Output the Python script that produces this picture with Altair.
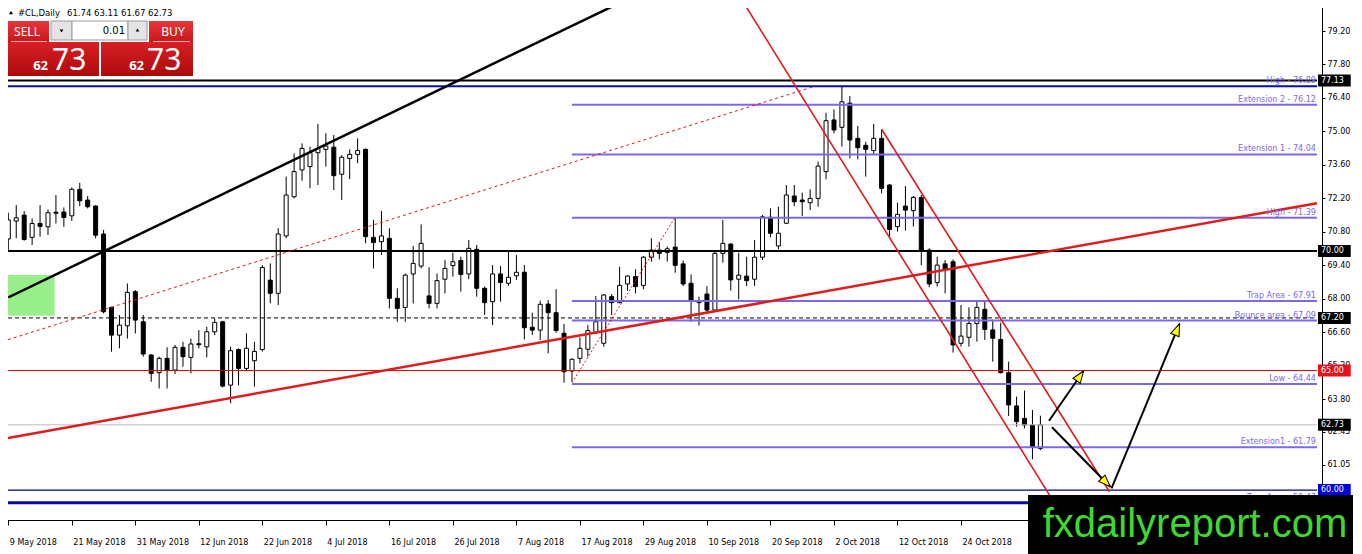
import json
import math
import altair as alt
import pandas as pd

# ---------------- candle data (bar index 0 = 9 May 2018) ----------------
opens = [70.50, 71.25, 71.50, 70.57, 71.15, 71.01, 71.62, 71.63, 71.47, 72.58,
         72.13, 71.88, 70.71, 67.64, 66.48, 66.87, 68.30, 67.04, 65.65, 64.91,
         65.51, 65.02, 65.97, 65.55, 66.12, 65.99, 66.62, 67.04, 64.39, 65.88,
         65.09, 65.41, 65.88, 68.78, 68.23, 70.63, 72.27, 73.39, 73.53, 74.11,
         74.25, 74.34, 73.21, 73.87, 74.04, 74.25, 70.57, 70.39, 70.53, 68.02,
         67.64, 69.04, 69.37, 68.12, 67.81, 68.82, 69.39, 69.60, 69.04, 70.07,
         68.44, 67.88, 69.04, 68.65, 68.96, 69.11, 66.81, 66.69, 67.78, 67.42,
         66.56, 64.98, 65.51, 65.89, 66.58, 66.14, 68.09, 67.84, 68.62, 68.93,
         68.56, 69.74, 70.04, 69.94, 70.16, 69.46, 68.65, 67.92, 68.20, 67.53,
         69.90, 70.29, 68.82, 68.95, 68.82, 69.74, 71.41, 70.21, 71.16, 72.30,
         72.13, 72.02, 72.20, 73.32, 75.48, 75.17, 76.18, 74.71, 74.42, 74.20,
         74.71, 72.76, 71.02, 71.88, 71.69, 72.24, 70.04, 68.68, 69.46, 69.55,
         66.14, 66.39, 66.97, 67.56, 66.70, 66.30, 64.91, 63.52, 63.00, 62.72,
         61.74]
highs = [71.60, 71.92, 71.67, 71.36, 71.92, 71.74, 72.34, 71.82, 72.66, 72.85,
         72.30, 71.92, 70.88, 67.67, 67.32, 68.64, 68.37, 67.32, 65.69, 65.58,
         65.97, 66.07, 66.20, 66.34, 66.69, 66.83, 67.18, 67.08, 66.00, 65.93,
         66.55, 66.20, 69.41, 69.48, 70.95, 73.11, 74.08, 74.50, 74.36, 75.31,
         74.92, 74.85, 74.01, 74.25, 74.71, 74.29, 71.30, 71.67, 70.95, 68.44,
         69.06, 70.21, 71.11, 69.32, 69.06, 69.62, 69.93, 69.76, 70.46, 70.25,
         68.51, 69.41, 69.37, 69.97, 69.83, 69.41, 67.42, 67.92, 67.95, 68.40,
         66.95, 65.51, 66.39, 66.90, 68.12, 68.20, 68.20, 69.34, 68.99, 69.23,
         69.79, 70.53, 70.36, 70.18, 71.41, 69.60, 69.02, 68.09, 68.53, 70.04,
         71.30, 70.32, 69.93, 69.76, 70.46, 71.50, 71.78, 71.85, 72.76, 72.76,
         72.44, 72.58, 73.74, 75.78, 75.92, 76.90, 76.48, 75.23, 74.57, 75.31,
         75.09, 72.80, 72.02, 72.72, 72.30, 72.34, 70.11, 69.76, 69.62, 69.65,
         67.74, 67.64, 67.88, 67.92, 67.12, 67.00, 65.37, 63.91, 64.16, 63.35,
         63.11]
lows = [70.00, 70.53, 70.43, 70.25, 70.60, 70.67, 71.15, 71.01, 71.26, 71.88,
        71.78, 70.53, 67.39, 65.79, 65.93, 66.34, 66.55, 65.58, 64.53, 64.25,
        64.25, 64.85, 65.16, 64.88, 65.93, 65.55, 66.48, 64.29, 63.63, 64.39,
        65.02, 64.32, 65.79, 67.81, 67.74, 70.53, 72.20, 72.94, 72.62, 72.76,
        73.53, 72.55, 72.13, 73.01, 73.67, 70.32, 69.27, 69.83, 67.60, 67.04,
        67.04, 67.81, 69.27, 67.60, 67.60, 68.23, 68.93, 68.30, 68.82, 68.09,
        67.32, 66.90, 67.88, 68.54, 68.79, 66.30, 66.49, 66.28, 65.72, 66.58,
        64.49, 64.53, 65.30, 65.58, 66.53, 66.00, 67.32, 67.81, 68.34, 68.23,
        68.40, 69.55, 69.65, 69.55, 69.09, 68.53, 67.04, 66.88, 67.39, 67.50,
        69.51, 68.34, 67.98, 68.53, 68.53, 69.62, 70.57, 70.07, 71.13, 71.88,
        71.46, 71.71, 71.85, 73.00, 74.92, 74.36, 73.88, 73.83, 73.11, 74.06,
        72.41, 70.60, 70.81, 70.85, 71.02, 69.41, 68.48, 68.51, 68.23, 65.75,
        66.00, 66.00, 66.21, 66.28, 65.37, 64.88, 63.10, 62.65, 62.58, 61.29,
        61.67]
closes = [71.30, 71.39, 70.48, 71.15, 71.03, 71.60, 71.58, 71.40, 72.58, 72.10,
          71.85, 70.66, 67.46, 66.48, 66.90, 68.27, 67.11, 65.69, 64.88, 65.51,
          65.02, 65.97, 65.58, 66.11, 66.08, 66.62, 67.01, 64.35, 65.83, 65.09,
          65.93, 65.80, 69.31, 68.23, 70.71, 72.34, 73.32, 74.29, 74.11, 74.29,
          74.39, 73.15, 73.92, 74.04, 74.20, 70.60, 70.35, 70.63, 68.02, 67.60,
          68.99, 69.48, 70.32, 67.81, 68.76, 69.27, 69.55, 69.02, 70.11, 68.44,
          67.84, 69.04, 68.68, 68.90, 69.11, 66.79, 66.69, 67.77, 67.42, 66.67,
          64.95, 65.47, 65.93, 66.67, 67.04, 68.16, 67.84, 68.56, 68.95, 68.51,
          69.74, 70.04, 69.90, 70.09, 69.40, 68.62, 67.92, 67.84, 67.53, 69.90,
          70.32, 68.79, 68.99, 68.76, 69.74, 71.43, 70.74, 70.74, 72.34, 72.06,
          72.06, 72.20, 73.55, 75.45, 75.06, 76.24, 74.64, 74.32, 74.25, 74.71,
          72.62, 70.90, 71.53, 71.71, 72.24, 70.04, 68.62, 69.41, 69.23, 66.07,
          66.44, 66.97, 67.64, 66.72, 66.35, 64.91, 63.56, 62.86, 62.72, 61.79,
          62.73]

date_labels = ["9 May 2018", "21 May 2018", "31 May 2018", "12 Jun 2018", "22 Jun 2018",
               "4 Jul 2018", "16 Jul 2018", "26 Jul 2018", "7 Aug 2018", "17 Aug 2018",
               "29 Aug 2018", "10 Sep 2018", "20 Sep 2018", "2 Oct 2018", "12 Oct 2018",
               "24 Oct 2018"]
bars_per_label = 8

price_ticks = [79.20, 77.80, 76.40, 75.00, 73.60, 72.20, 70.80, 69.40, 68.00,
               66.60, 65.20, 63.80, 62.45, 61.05, 59.65]

# horizontal levels
black_levels = [77.13, 70.00]
navy_levels = [76.89]
navy_thin_levels = [60.00]
navy_thick_levels = [59.47]
dashed_levels = [67.20]
red_levels = [65.00]
grey_levels = [62.73]
fibo_start_bar = 71
fibo_levels = [76.12, 74.04, 71.39, 67.91, 67.09, 64.44, 61.79]

level_names = ["High - 76.89", "Extension 2 - 76.12", "Extension 1 - 74.04", "High - 71.39",
               "Trap Area - 67.91", "Bounce area - 67.09", "Low - 64.44",
               "Extension1 - 61.79", "Trap Area - 59.47"]
level_prices = [76.89, 76.12, 74.04, 71.39, 67.91, 67.09, 64.44, 61.79, 59.47]

badge_prices = [77.13, 70.00, 67.20, 65.00, 62.73, 60.00]
badge_texts = ["77.13", "70.00", "67.20", "65.00", "62.73", "60.00"]
badge_colors = ["#000000", "#000000", "#000000", "#e8101a", "#000000", "#0000e0"]

# trend lines: (bar, price) -> (bar, price)
X0, X1 = -0.0375, 164.84
Y0, Y1 = 58.749, 80.455
black_trend = [(0.0, 68.06, 76.1, 80.23)]
red_trend = [(X0, 62.18, X1, 72.00)]
red_dashed = [(X0, 66.29, 101.7, 76.90)]
red_dotted = [(71.0, 64.49, 84.0, 71.42)]
channel = [(92.49, 80.455, 133.09, 58.75), (110.0, 75.09, 138.7, 59.93)]
arrows = [(131.09, 62.90, 135.43, 64.98),
          (131.46, 62.63, 138.80, 60.14),
          (138.96, 60.07, 147.52, 66.95)]
green_zone = [(X0, 69.00, 5.84, 67.29)]

header_symbol = "#CL,Daily"
header_ohlc = "61.74 63.11 61.67 62.73"
watermark = "fxdailyreport.com"

# ---------------- layout ----------------
W, H = 1319, 519
px_per_bar = W / (X1 - X0)
px_per_price = H / (Y1 - Y0)

xs = alt.Scale(domain=[X0, X1], nice=False, zero=False)
ys = alt.Scale(domain=[Y0, Y1], nice=False, zero=False)

x_axis = alt.Axis(values=[k * bars_per_label for k in range(len(date_labels))],
                  labelExpr=json.dumps(date_labels) + f"[round(datum.value/{bars_per_label})]",
                  title=None, orient="bottom", tickSize=5, labelAlign="left",
                  labelBaseline="top", labelPadding=13, labelOffset=1, grid=False,
                  labelFlush=False, labelOverlap=False)
y_axis = alt.Axis(values=price_ticks, format=".2f", orient="right", title=None,
                  tickSize=3, labelPadding=2, grid=False, labelOverlap=False,
                  labelFlush=False)


def X(f):
    return alt.X(f"{f}:Q", scale=xs, axis=x_axis)


def Y(f):
    return alt.Y(f"{f}:Q", scale=ys, axis=y_axis)


candles = pd.DataFrame({"i": list(range(len(opens))), "o": opens, "h": highs,
                        "l": lows, "c": closes})

layers = []

# green zone
gz = pd.DataFrame(green_zone, columns=["x", "y", "x2", "y2"])
layers.append(alt.Chart(gz).mark_rect(fill="#99ee8c", clip=True).encode(
    x=X("x"), x2="x2", y=Y("y"), y2="y2"))

# candles
layers.append(alt.Chart(candles).mark_rule(color="black", strokeWidth=1, clip=True).encode(
    x=X("i"), y=Y("l"), y2="h"))
layers.append(alt.Chart(candles).transform_calculate(
    top="max(datum.o, datum.c)", bot="min(datum.o, datum.c)"
).mark_bar(size=4, stroke="black", strokeWidth=1, clip=True).encode(
    x=X("i"), y=Y("bot"), y2="top",
    fill=alt.condition("datum.c >= datum.o", alt.value("white"), alt.value("black"))))


def hlines(levels, start, color, width, dash=None):
    df = pd.DataFrame({"p": levels, "x": [start] * len(levels), "x2": [X1] * len(levels)})
    kw = dict(color=color, strokeWidth=width, clip=True)
    if dash:
        kw["strokeDash"] = dash
    return alt.Chart(df).mark_rule(**kw).encode(x=X("x"), x2="x2", y=Y("p"))


def seglines(segs, color, width, dash=None):
    df = pd.DataFrame(segs, columns=["x", "y", "x2", "y2"])
    kw = dict(color=color, strokeWidth=width, clip=True)
    if dash:
        kw["strokeDash"] = dash
    return alt.Chart(df).mark_rule(**kw).encode(x=X("x"), x2="x2", y=Y("y"), y2="y2")


layers += [
    hlines(grey_levels, X0, "#bdbdbd", 1),
    hlines(red_levels, X0, "#e00000", 1),
    hlines(dashed_levels, X0, "black", 1, [4, 3]),
    hlines(fibo_levels, fibo_start_bar, "#7b68ee", 2),
    hlines(navy_thin_levels, X0, "#000090", 1.2),
    hlines(navy_thick_levels, X0, "#0a0aa0", 3),
    hlines(navy_levels, X0, "#0a0ab4", 2.2),
    hlines(black_levels, X0, "black", 2),
    seglines(red_dashed, "#d42020", 1, [3, 3]),
    seglines(red_dotted, "#d42020", 1, [2, 2]),
    seglines(red_trend, "#e01b1b", 2.5),
    seglines(black_trend, "black", 2.5),
    seglines(channel, "#e01b1b", 1.6),
]

# level labels
lab = pd.DataFrame({"t": level_names, "p": level_prices, "x": [164.7] * len(level_names)})
layers.append(alt.Chart(lab).mark_text(align="right", baseline="bottom", dy=-1,
                                       font="DejaVu Sans", fontSize=8, color="#7b68ee").encode(
    x=X("x"), y=Y("p"), text="t:N"))

# arrows
ar = pd.DataFrame(arrows, columns=["x", "y", "x2", "y2"])
ar["ang"] = [
    (math.degrees(math.atan2((r.x2 - r.x) * px_per_bar, (r.y2 - r.y) * px_per_price)) + 360) % 360
    for r in ar.itertuples()]
layers.append(alt.Chart(ar).mark_rule(color="black", strokeWidth=2, clip=True).encode(
    x=X("x"), x2="x2", y=Y("y"), y2="y2"))
layers.append(alt.Chart(ar).mark_point(shape="M0,0 L-0.75,2 L0.75,2 Z", size=144, filled=True,
                                       color="#ffff00", stroke="black", strokeWidth=1,
                                       opacity=1).encode(
    x=X("x2"), y=Y("y2"), angle=alt.Angle("ang:Q", scale=None)))

# right axis badges
bd = pd.DataFrame({"p": badge_prices, "t": badge_texts, "col": badge_colors})
bd["lo"] = bd["p"] - 6 / px_per_price
bd["hi"] = bd["p"] + 6 / px_per_price
bd["x"] = X1 + 1 / px_per_bar
bd["x2"] = X1 + 34 / px_per_bar
bd["xt"] = X1 + 4 / px_per_bar
layers.append(alt.Chart(bd).mark_rect().encode(
    x=X("x"), x2="x2", y=Y("lo"), y2="hi", fill=alt.Fill("col:N", scale=None)))
layers.append(alt.Chart(bd).mark_text(align="left", baseline="middle", font="DejaVu Sans",
                                      fontSize=8, color="white").encode(
    x=X("xt"), y=Y("p"), text="t:N"))

# ---------------- chrome (pixel positioned decorations) ----------------
one = pd.DataFrame({"a": [0]})


def box(x1, y1, x2, y2, **kw):
    return alt.Chart(one).mark_rect(**kw).encode(
        x=alt.value(x1), x2=alt.value(x2), y=alt.value(y1), y2=alt.value(y2))


def label(txt, x, y, **kw):
    return alt.Chart(one).mark_text(text=txt, **kw).encode(x=alt.value(x), y=alt.value(y))


def grad(c1, c2):
    return alt.Gradient(gradient="linear", x1=0, x2=0, y1=0, y2=1,
                        stops=[alt.GradientStop(color=c1, offset=0),
                               alt.GradientStop(color=c2, offset=1)])


red_top = grad("#e8373a", "#c8161a")
red_bot = grad("#d82024", "#ad0a0d")
layers += [
    box(3, 20, 46, 41, fill=red_top),
    box(146, 20, 190, 41, fill=red_top),
    box(3, 41, 96, 75, fill=red_bot),
    box(98, 41, 190, 75, fill=red_bot),
    box(48, 20, 69, 39, fill="#e4e4e4", stroke="#9a9a9a", strokeWidth=1),
    box(69, 20, 125, 39, fill="white", stroke="#9a9a9a", strokeWidth=1),
    box(125, 20, 144, 39, fill="#e4e4e4", stroke="#9a9a9a", strokeWidth=1),
    alt.Chart(one).mark_rule(color="#f3b0b0", strokeWidth=1).encode(
        x=alt.value(8), x2=alt.value(44), y=alt.value(40.5)),
    alt.Chart(one).mark_rule(color="#f3b0b0", strokeWidth=1).encode(
        x=alt.value(150), x2=alt.value(187), y=alt.value(40.5)),
    alt.Chart(one).mark_point(shape="triangle-down", size=14, filled=True, color="black",
                              opacity=1).encode(x=alt.value(58.5), y=alt.value(30)),
    alt.Chart(one).mark_point(shape="triangle-up", size=14, filled=True, color="black",
                              opacity=1).encode(x=alt.value(134.5), y=alt.value(29)),
    label("SELL", 24, 30.5, font="Noto Sans", fontSize=12, color="white",
          align="center", baseline="middle"),
    label("BUY", 170, 30.5, font="Noto Sans", fontSize=12, color="white",
          align="center", baseline="middle"),
    label("0.01", 122, 29.5, font="DejaVu Sans", fontSize=10, color="black",
          align="right", baseline="middle"),
    label("62", 45, 69, font="Noto Sans", fontSize=13, fontWeight="bold", color="white",
          align="right", baseline="alphabetic"),
    label("73", 49, 69, font="Noto Sans", fontSize=30, color="white",
          align="left", baseline="alphabetic"),
    label("62", 141, 69, font="Noto Sans", fontSize=13, fontWeight="bold", color="white",
          align="right", baseline="alphabetic"),
    label("73", 144, 69, font="Noto Sans", fontSize=30, color="white",
          align="left", baseline="alphabetic"),
    alt.Chart(one).mark_point(shape="triangle-up", size=16, filled=True, color="black",
                              opacity=1).encode(x=alt.value(8), y=alt.value(11.5)),
    label(header_symbol, 15, 12, font="DejaVu Sans", fontSize=8.5, color="black",
          align="left", baseline="middle"),
    label(header_ohlc, 64, 12, font="DejaVu Sans", fontSize=8.5, color="black",
          align="left", baseline="middle"),
    box(1025, 494, 1370, 560, fill="black"),
    label(watermark, 1192, 536, font="Liberation Sans", fontSize=40, color="#3fd92d",
          align="center", baseline="alphabetic"),
]

chart = alt.layer(*layers).properties(
    width=W, height=H,
    autosize=alt.AutoSizeParams(type="none"),
    padding={"left": -5, "top": -7, "right": 31, "bottom": 34},
    background="white",
).configure_view(stroke="black", strokeWidth=1).configure_axis(
    labelFont="DejaVu Sans", labelFontSize=8, labelColor="black",
    domainColor="black", tickColor="black", domainWidth=1, tickWidth=1)

chart.save("out.html", embed_options={"renderer": "svg", "actions": False})
